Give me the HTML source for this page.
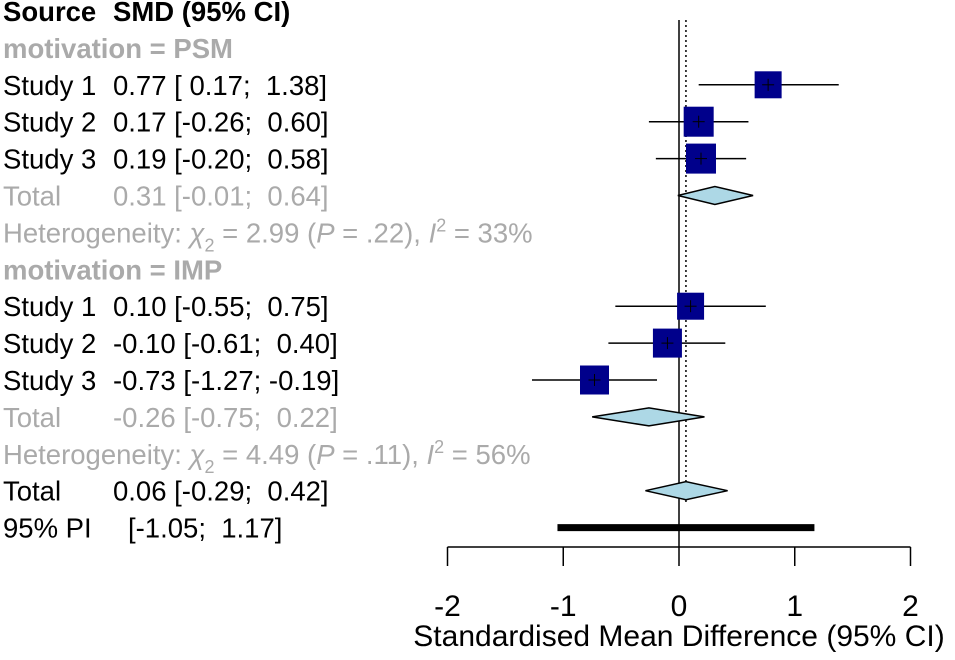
<!DOCTYPE html>
<html><head><meta charset="utf-8"><style>
body{margin:0;background:#fff}
svg{display:block;font-family:"Liberation Sans",Arial,sans-serif}
text{white-space:pre}
.t{font-size:27.5px;fill:#000}
.g{font-size:27.5px;fill:#aaa}
.ax{font-size:30px;fill:#000}
.b{font-weight:bold}
</style></head><body>
<svg id="plot" width="955" height="660" viewBox="0 0 955 660">
<g id="txt"></g>
<g id="marks"></g>
<g id="axis"></g>
</svg>
<script>
const labels=["Study 1","Study 2","Study 3","Study 1","Study 2","Study 3"];
const est=[0.77,0.17,0.19,0.10,-0.10,-0.73];
const lo=[0.17,-0.26,-0.20,-0.55,-0.61,-1.27];
const hi=[1.38,0.60,0.58,0.75,0.40,-0.19];
const sqSize=[27,30,30,27,29,29];
const studyRows=[2,3,4,8,9,10];
const totEst=[0.31,-0.26,0.06];
const totLo=[-0.01,-0.75,-0.29];
const totHi=[0.64,0.22,0.42];
const totRows=[5,11,13];
const piLo=-1.05, piHi=1.17;
const ticks=[-2,-1,0,1,2];
const NS="http://www.w3.org/2000/svg";
const x=v=>679+v*115.75;
const y=r=>11+r*36.9;
function mk(p,tag,a){const e=document.createElementNS(NS,tag);for(const k in a)e.setAttribute(k,a[k]);p.appendChild(e);return e;}
const T=document.getElementById('txt'),M=document.getElementById('marks'),A=document.getElementById('axis');
function txt(s,xx,r,cls,name){const e=mk(T,'text',{x:xx,y:y(r)+10,class:cls});e.textContent=s;

return e;}
const f=v=>(v<0?"":" ")+v.toFixed(2);
const ciStr=(e,l,h)=>e.toFixed(2)+" ["+f(l)+"; "+f(h)+"]";
txt("Source",3,0,"t b","header-source");
txt("SMD (95% CI)",113,0,"t b","header-smd");
txt("motivation = PSM",3,1,"g b","group-psm");
txt("motivation = IMP",3,7,"g b","group-imp");
labels.forEach((l,i)=>{txt(l,3,studyRows[i],"t","study-label");
txt(ciStr(est[i],lo[i],hi[i]),113,studyRows[i],"t","study-smd");});
txt("Total",3,5,"g","subtotal-label");txt(ciStr(totEst[0],totLo[0],totHi[0]),113,5,"g","subtotal-smd");
txt("Total",3,11,"g","subtotal-label");txt(ciStr(totEst[1],totLo[1],totHi[1]),113,11,"g","subtotal-smd");
txt("Total",3,13,"t","total-label");txt(ciStr(totEst[2],totLo[2],totHi[2]),113,13,"t","total-smd");
txt("95% PI",3,14,"t","pi-label");
txt("["+f(piLo)+"; "+f(piHi)+"]",128,14,"t","pi-value");
function het(r,c,p,i){const e=mk(T,'text',{x:3,y:y(r)+10,class:'g'});


e.innerHTML='Heterogeneity: <tspan font-style="italic">χ</tspan><tspan dy="9" font-size="18">2</tspan><tspan dy="-9"> = '+c+' (</tspan><tspan font-style="italic">P</tspan><tspan> = '+p+'), </tspan><tspan font-style="italic">I</tspan><tspan dy="-11" font-size="18">2</tspan><tspan dy="11"> = '+i+'</tspan>';}
het(6,"2.99",".22","33%");het(12,"4.49",".11","56%");
let l=mk(M,'line',{x1:x(0),x2:x(0),y1:20,y2:547,stroke:'#000','stroke-width':1.5});

l=mk(M,'line',{x1:x(totEst[2]),x2:x(totEst[2]),y1:20,y2:505,stroke:'#000','stroke-width':1.5,'stroke-dasharray':'2,3'});

est.forEach((v,i)=>{const yy=y(studyRows[i]),s=sqSize[i];
const ci=mk(M,'line',{x1:x(lo[i]),x2:x(hi[i]),y1:yy,y2:yy,stroke:'#000','stroke-width':1.5});

const r=mk(M,'rect',{x:x(v)-s/2,y:yy-s/2,width:s,height:s,fill:'#00008b'});

mk(M,'line',{x1:x(v),x2:x(v),y1:yy-6,y2:yy+6,stroke:'#000','stroke-width':1});
mk(M,'line',{x1:x(v)-6,x2:x(v)+6,y1:yy,y2:yy,stroke:'#000','stroke-width':1});});
totEst.forEach((v,i)=>{const yy=y(totRows[i]);
const d=mk(M,'polygon',{points:`${x(totLo[i])},${yy} ${x(v)},${yy-9} ${x(totHi[i])},${yy} ${x(v)},${yy+9}`,fill:'#add8e6',stroke:'#000','stroke-width':1.5});
});
const pi=mk(M,'line',{x1:x(piLo),x2:x(piHi),y1:y(14),y2:y(14),stroke:'#000','stroke-width':7});

mk(A,'line',{x1:x(ticks[0]),x2:x(ticks[ticks.length-1]),y1:547,y2:547,stroke:'#000','stroke-width':1.5});
ticks.forEach(t=>{mk(A,'line',{x1:x(t),x2:x(t),y1:547,y2:566,stroke:'#000','stroke-width':1.5});
const e=mk(A,'text',{x:x(t),y:616,'text-anchor':'middle',class:'ax'});e.textContent=t;
});
const ti=mk(A,'text',{x:679,y:646,'text-anchor':'middle',class:'ax'});ti.textContent="Standardised Mean Difference (95% CI)";

</script>
</body></html>
